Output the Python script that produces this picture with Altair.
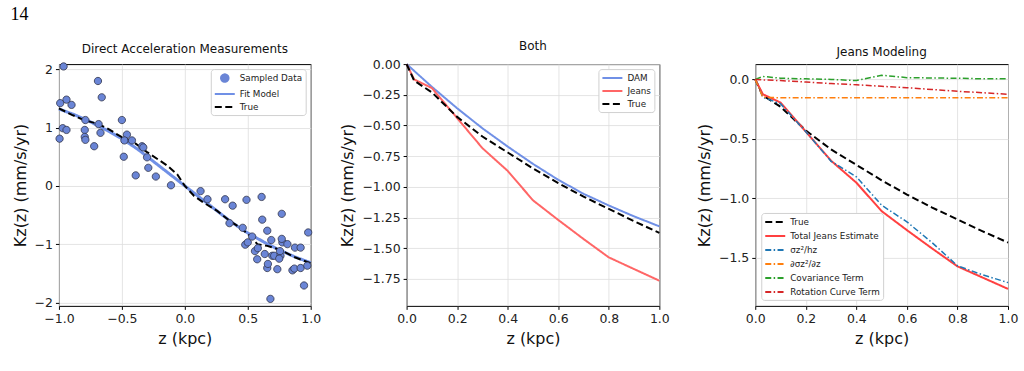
import altair as alt
import pandas as pd

# ---------------- Panel 1: Direct Acceleration Measurements ----------------
sample_z = [-0.963, -0.99, -0.94, -0.90, -0.97, -0.94, -0.995, -0.69, -0.66, -0.79,
            -0.795, -0.795, -0.79, -0.72, -0.685, -0.67, -0.50, -0.46, -0.48, -0.42,
            -0.485, -0.34, -0.33, -0.30, -0.29, -0.39, -0.23, -0.11, 0.125, 0.18,
            0.32, 0.38, 0.355, 0.46, 0.49, 0.61, 0.615, 0.655, 0.77, 0.48,
            0.50, 0.535, 0.557, 0.58, 0.575, 0.635, 0.655, 0.66, 0.687, 0.695,
            0.71, 0.76, 0.756, 0.75, 0.735, 0.775, 0.77, 0.815, 0.855, 0.87,
            0.875, 0.92, 0.92, 0.947, 0.973, 0.98, 0.68]
sample_k = [2.05, 1.42, 1.48, 1.39, 0.99, 0.96, 0.81, 1.80, 1.52, 1.13,
            0.96, 0.84, 0.79, 0.68, 1.06, 0.91, 1.13, 0.88, 0.78, 0.78,
            0.50, 0.68, 0.66, 0.49, 0.31, 0.18, 0.16, 0.01, -0.09, -0.23,
            -0.23, -0.34, -0.64, -0.72, -0.24, -0.19, -0.58, -0.77, -0.48, -1.01,
            -0.97, -0.87, -1.12, -1.07, -1.26, -1.17, -1.41, -1.34, -0.93, -1.20,
            -1.20, -1.20, -1.12, -1.25, -1.43, -0.97, -0.91, -1.00, -1.45, -1.42,
            -1.06, -1.06, -1.41, -1.71, -1.37, -0.80, -1.94]

fit_z = [-1.0, -0.875, -0.75, -0.625, -0.5, -0.375, -0.25, -0.125, 0.0,
         0.125, 0.25, 0.375, 0.5, 0.625, 0.75, 0.875, 1.0]
fit_k = [1.32, 1.22, 1.10, 0.96, 0.81, 0.63, 0.42, 0.21, 0.0,
         -0.21, -0.42, -0.63, -0.81, -0.96, -1.10, -1.22, -1.32]

true1_z = [-1.0, -0.897, -0.804, -0.698, -0.618, -0.504, -0.406, -0.300, -0.141, -0.061, 0.0,
           0.072, 0.151, 0.257, 0.363, 0.443, 0.523, 0.576, 0.655, 0.761, 0.867, 1.0]
true1_k = [1.33, 1.22, 1.13, 1.07, 0.99, 0.84, 0.75, 0.58, 0.35, 0.20, 0.0,
           -0.17, -0.29, -0.43, -0.61, -0.72, -0.87, -1.00, -1.03, -1.10, -1.22, -1.33]

# ---------------- Panels 2 & 3 ----------------
z_grid = [0.0, 0.03, 0.1, 0.2, 0.3, 0.4, 0.5, 0.6, 0.7, 0.8, 0.9, 1.0]
true_k = [0.0, -0.135, -0.23, -0.43, -0.59, -0.72, -0.85, -0.97, -1.08, -1.18, -1.28, -1.375]
jeans_k = [0.0, -0.125, -0.195, -0.44, -0.685, -0.87, -1.11, -1.27, -1.425, -1.575, -1.67, -1.765]
sigma_k = [0.0, -0.15, -0.205, -0.44, -0.69, -0.82, -1.06, -1.20, -1.376, -1.57, -1.647, -1.712]
dsigma_k = [0.0, -0.15, -0.155, -0.155, -0.155, -0.155, -0.155, -0.155, -0.155, -0.155, -0.155, -0.155]
cov_k = [0.0, 0.025, 0.01, 0.005, 0.0, -0.01, 0.035, 0.015, 0.012, 0.01, 0.005, 0.005]
rot_k = [0.0, -0.004, -0.01, -0.022, -0.035, -0.045, -0.058, -0.07, -0.085, -0.10, -0.112, -0.125]

dam_z = [0.0, 0.1, 0.2, 0.3, 0.4, 0.5, 0.6, 0.7, 0.8, 0.9, 1.0]
dam_k = [0.0, -0.185, -0.36, -0.523, -0.672, -0.813, -0.943, -1.057, -1.152, -1.241, -1.322]

FONT = "DejaVu Sans"
MINUS = "replace(datum.label, '-', '\u2212')"
DASH = [7, 3.5]
DASHDOT = [6, 2.4, 1.5, 2.4]
SOLID = [1, 0]
LINE_PATH = "M-2,0H2"
CIRCLE_PATH = "M-0.75,0A0.75,0.75,0,1,1,0.75,0A0.75,0.75,0,1,1,-0.75,0"


def xaxis(values):
    return alt.Axis(values=values, format=".1f", labelExpr=MINUS, title="z (kpc)")


def yaxis(values, fmt):
    return alt.Axis(values=values, format=fmt, labelExpr=MINUS, title="Kz(z) (mm/s/yr)")


def legend(orient, offset=5, row_padding=2):
    return alt.Legend(title=None, orient=orient, offset=offset, labelFont=FONT, labelFontSize=8.8,
                      labelColor="#222", symbolSize=100, symbolStrokeWidth=2, symbolType=LINE_PATH,
                      symbolOffset=5, labelOffset=9, padding=3, rowPadding=row_padding,
                      strokeColor="#d0d0d0", fillColor="white", cornerRadius=3)


# ---- Panel 1 ----
dom1 = ["Sampled Data", "Fit Model", "True"]
col1 = ["#6a85d6", "#7090e6", "black"]
leg1 = legend("top-right")
color1 = alt.Color("series:N", scale=alt.Scale(domain=dom1, range=col1), legend=leg1)
dash1 = alt.StrokeDash("series:N", scale=alt.Scale(domain=dom1, range=[SOLID, SOLID, DASH]), legend=leg1)
shape1 = alt.Shape("series:N", scale=alt.Scale(domain=dom1, range=[CIRCLE_PATH, LINE_PATH, LINE_PATH]), legend=leg1)

x1 = alt.X("z:Q", scale=alt.Scale(domain=[-1, 1], nice=False, zero=False),
           axis=xaxis([-1.0, -0.5, 0.0, 0.5, 1.0]))
y1 = alt.Y("k:Q", scale=alt.Scale(domain=[-2.06, 2.09], nice=False, zero=False),
           axis=yaxis([-2, -1, 0, 1, 2], "d"))

df_fit = pd.DataFrame({"z": fit_z, "k": fit_k, "series": "Fit Model"})
df_true1 = pd.DataFrame({"z": true1_z, "k": true1_k, "series": "True"})
df_pts = pd.DataFrame({"z": sample_z, "k": sample_k, "series": "Sampled Data"})

fit_line = alt.Chart(df_fit).mark_line(strokeWidth=3).encode(x=x1, y=y1, color=color1, strokeDash=dash1)
true_line1 = alt.Chart(df_true1).mark_line(strokeWidth=2).encode(x=x1, y=y1, color=color1, strokeDash=dash1)
pts = alt.Chart(df_pts).mark_point(filled=True, size=95, opacity=1, stroke="#30344a",
                                   strokeWidth=0.8).encode(x=x1, y=y1, color=color1, shape=shape1)

p1 = alt.layer(fit_line, true_line1, pts).properties(
    width=252, height=242,
    title=alt.TitleParams("Direct Acceleration Measurements", fontSize=12, offset=5))

# ---- Panel 2 ----
dom2 = ["DAM", "Jeans", "True"]
leg2 = legend("top-right")
color2 = alt.Color("series:N", scale=alt.Scale(domain=dom2, range=["#7090e6", "#ff6666", "black"]), legend=leg2)
dash2 = alt.StrokeDash("series:N", scale=alt.Scale(domain=dom2, range=[SOLID, SOLID, DASH]), legend=leg2)
x2 = alt.X("z:Q", scale=alt.Scale(domain=[0, 1], nice=False), axis=xaxis([0, 0.2, 0.4, 0.6, 0.8, 1.0]))
y2 = alt.Y("k:Q", scale=alt.Scale(domain=[-1.97, 0], nice=False, zero=False),
           axis=yaxis([0, -0.25, -0.5, -0.75, -1.0, -1.25, -1.5, -1.75], ".2f"))
df2 = pd.concat([
    pd.DataFrame({"z": dam_z, "k": dam_k, "series": "DAM"}),
    pd.DataFrame({"z": z_grid, "k": jeans_k, "series": "Jeans"}),
    pd.DataFrame({"z": z_grid, "k": true_k, "series": "True"}),
])
p2 = alt.Chart(df2).mark_line(strokeWidth=2).encode(
    x=x2, y=y2, color=color2, strokeDash=dash2, order=alt.Order("z:Q")
).properties(width=253, height=242, title=alt.TitleParams("Both", fontSize=12, offset=5))

# ---- Panel 3 ----
dom3 = ["True", "Total Jeans Estimate", "\u03c3z\u00b2/hz", "\u2202\u03c3z\u00b2/\u2202z",
        "Covariance Term", "Rotation Curve Term"]
col3 = ["black", "#ff4040", "#1f77b4", "#ff7f0e", "#2ca02c", "#d62728"]
leg3 = legend("bottom-left", offset=6, row_padding=3)
color3 = alt.Color("series:N", scale=alt.Scale(domain=dom3, range=col3), legend=leg3)
dash3 = alt.StrokeDash("series:N", scale=alt.Scale(domain=dom3, range=[DASH, SOLID, DASHDOT, DASHDOT, DASHDOT, DASHDOT]), legend=leg3)
x3 = alt.X("z:Q", scale=alt.Scale(domain=[0, 1], nice=False), axis=xaxis([0, 0.2, 0.4, 0.6, 0.8, 1.0]))
y3 = alt.Y("k:Q", scale=alt.Scale(domain=[-1.908, 0.129], nice=False, zero=False),
           axis=yaxis([0, -0.5, -1.0, -1.5], ".1f"))
df3a = pd.concat([
    pd.DataFrame({"z": z_grid, "k": true_k, "series": dom3[0]}),
    pd.DataFrame({"z": z_grid, "k": jeans_k, "series": dom3[1]}),
])
df3b = pd.concat([
    pd.DataFrame({"z": z_grid, "k": sigma_k, "series": dom3[2]}),
    pd.DataFrame({"z": z_grid, "k": dsigma_k, "series": dom3[3]}),
    pd.DataFrame({"z": z_grid, "k": cov_k, "series": dom3[4]}),
    pd.DataFrame({"z": z_grid, "k": rot_k, "series": dom3[5]}),
])
l3a = alt.Chart(df3a).mark_line(strokeWidth=2).encode(x=x3, y=y3, color=color3, strokeDash=dash3, order=alt.Order("z:Q"))
l3b = alt.Chart(df3b).mark_line(strokeWidth=1.5).encode(x=x3, y=y3, color=color3, strokeDash=dash3, order=alt.Order("z:Q"))
p3 = alt.layer(l3a, l3b).properties(width=253, height=242,
                                     title=alt.TitleParams("Jeans Modeling", fontSize=12, offset=5))

chart = alt.hconcat(p1, p2, p3, spacing=96, bounds="flush").resolve_scale(
    color="independent", strokeDash="independent", shape="independent", x="independent", y="independent"
).resolve_legend(
    color="independent", strokeDash="independent", shape="independent"
).properties(
    title=alt.TitleParams("14", anchor="start", font="Liberation Serif", fontSize=18,
                          fontWeight="normal", color="black", offset=16, dx=-1),
    padding={"left": 10, "top": 5, "right": 5, "bottom": 5},
    background="white",
).configure_view(
    stroke="black", strokeWidth=1
).configure_axis(
    labelFont=FONT, labelFontSize=12.5, labelColor="#222", titleFont=FONT, titleFontSize=16,
    titleFontWeight="normal", titleColor="#111", tickColor="black", tickSize=3.5, labelPadding=3,
    domain=False, gridColor="#dddddd", gridWidth=0.8, titlePadding=6, labelFlush=False
).configure_title(
    font=FONT, fontWeight="normal", color="#111"
)

chart.save("out.html", embed_options={"renderer": "svg", "actions": False})
